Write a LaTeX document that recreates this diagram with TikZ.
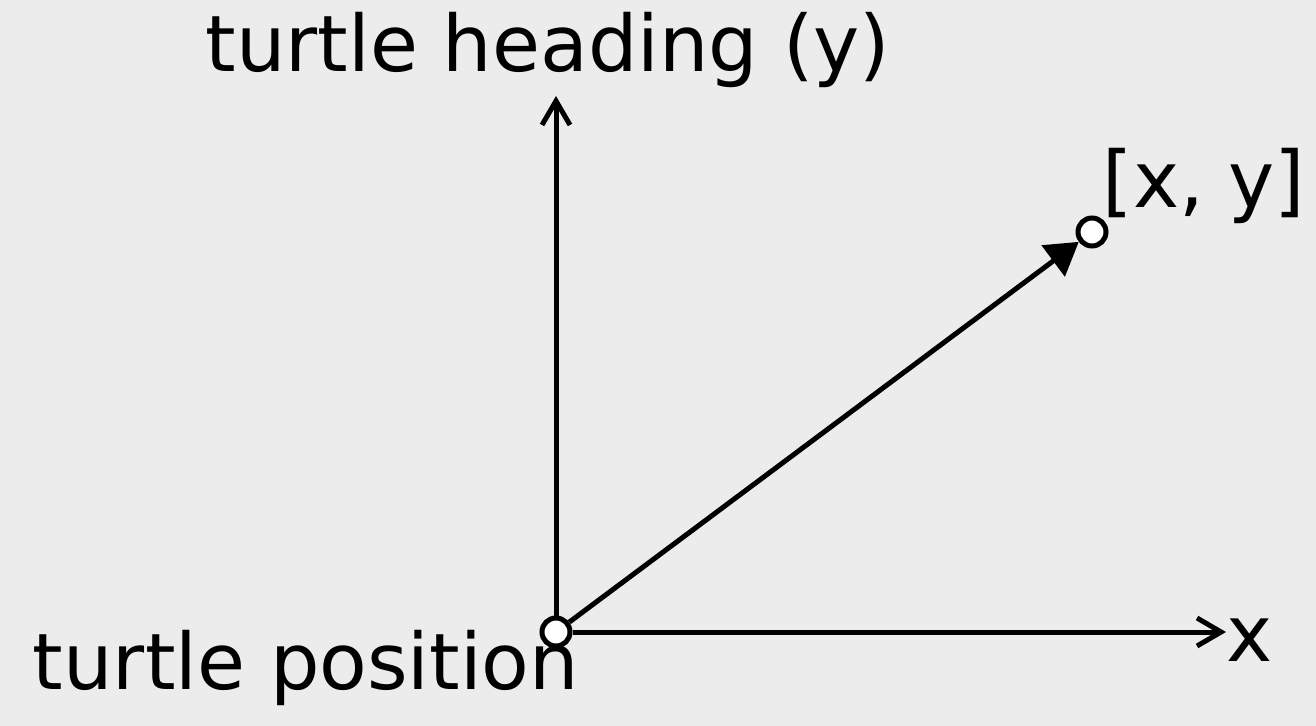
\documentclass[tikz,border=0pt]{standalone}
\usepackage{fontspec}
\setmainfont{DejaVu Sans}
\usepackage{xcolor}
\usepackage{tikz}
\usetikzlibrary{arrows.meta,positioning}

\definecolor{bgcol}{RGB}{236,236,236}

\begin{document}
\begin{tikzpicture}[
    x=0.5pt, y=-0.5pt,
    dot/.style={draw, circle, fill=white, line width=2.5pt, minimum size=14pt, inner sep=0pt},
    lbl/.style={font=\fontsize{39}{47}\selectfont, inner sep=0pt},
    axis/.style={-{Straight Barb[length=12pt, width=14pt]}, line width=2.5pt},
    vec/.style={-{Triangle[length=16pt, width=19pt]}, line width=2.5pt}
]
% background
\fill[bgcol] (0,0) rectangle (1316,726);
\useasboundingbox (0,0) rectangle (1316,726);

\coordinate (ytip) at (556,96);
\coordinate (xtip) at (1226,632);
\node[dot] (pos) at (556,632) {};
\node[dot] (pt)  at (1092,232) {};

\node[lbl] (heading)  at (548,50)  {turtle heading (y)};
\node[lbl] (xy)       at (1204,186) {[x, y]};
\node[lbl] (xlabel)   at (1250,640) {x};
\node[lbl] (position) at (306,668) {turtle position};

\draw[axis] (pos) -- (ytip);
\draw[axis] (pos) -- (xtip);
\draw[vec]  (pos) -- (pt);
\end{tikzpicture}
\end{document}
